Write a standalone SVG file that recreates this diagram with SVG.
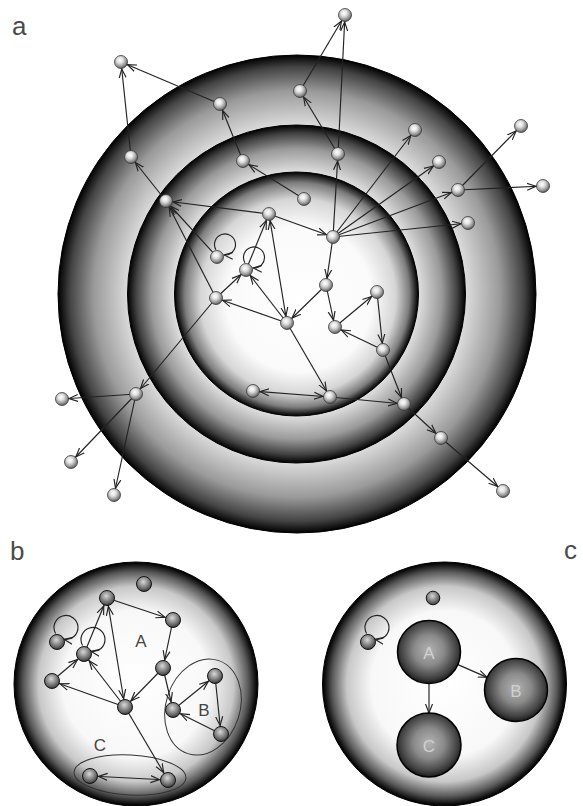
<svg xmlns="http://www.w3.org/2000/svg" width="583" height="806" viewBox="0 0 583 806">
<style>
.lbl{font-family:"Liberation Sans",Arial,sans-serif;fill:#4a4a4a}
.plbl{font-size:26px}
.glbl{font-size:17px;text-anchor:middle;fill:#454545}
.slbl{font-size:17px;text-anchor:middle;fill:#d0d0d0}
.na{fill:url(#gNodeA);stroke:#3a3a3a;stroke-width:0.8}
.nb{fill:url(#gNodeB);stroke:#151515;stroke-width:1}
.big{fill:url(#gBig);stroke:#000;stroke-width:1.5}
.edge{fill:none;stroke:#222;stroke-width:1.15}
.ea{marker-end:url(#ahA)}
.eab{marker-start:url(#ahA);marker-end:url(#ahA)}
.eb{marker-end:url(#ahB)}
.ebb{marker-start:url(#ahB);marker-end:url(#ahB)}
.el{marker-end:url(#ahL)}
.grp{fill:none;stroke:#333;stroke-width:1}
.mk{fill:none;stroke:#222;stroke-width:1.15}
</style>
<defs>
<radialGradient id="gOuter" cx="0.5" cy="0.5" r="0.5">
<stop offset="0" stop-color="#e6e6e6"/>
<stop offset="0.7" stop-color="#dedede"/>
<stop offset="0.85" stop-color="#9a9a9a"/>
<stop offset="0.95" stop-color="#444"/>
<stop offset="1" stop-color="#000"/>
</radialGradient>
<radialGradient id="gMid" cx="0.5" cy="0.5" r="0.5">
<stop offset="0" stop-color="#e8e8e8"/>
<stop offset="0.72" stop-color="#e0e0e0"/>
<stop offset="0.86" stop-color="#9a9a9a"/>
<stop offset="0.95" stop-color="#424242"/>
<stop offset="1" stop-color="#000"/>
</radialGradient>
<radialGradient id="gInner" cx="0.5" cy="0.5" r="0.5" fx="0.53" fy="0.55">
<stop offset="0" stop-color="#fff"/>
<stop offset="0.6" stop-color="#fafafa"/>
<stop offset="0.8" stop-color="#d6d6d6"/>
<stop offset="0.92" stop-color="#7e7e7e"/>
<stop offset="0.98" stop-color="#1e1e1e"/>
<stop offset="1" stop-color="#000"/>
</radialGradient>
<radialGradient id="gPanel" cx="0.5" cy="0.5" r="0.5">
<stop offset="0" stop-color="#fff"/>
<stop offset="0.6" stop-color="#f8f8f8"/>
<stop offset="0.8" stop-color="#c8c8c8"/>
<stop offset="0.92" stop-color="#5a5a5a"/>
<stop offset="0.98" stop-color="#111"/>
<stop offset="1" stop-color="#000"/>
</radialGradient>
<radialGradient id="gNodeA" cx="0.42" cy="0.36" r="0.64">
<stop offset="0" stop-color="#fff"/>
<stop offset="0.35" stop-color="#e2e2e2"/>
<stop offset="0.8" stop-color="#8c8c8c"/>
<stop offset="1" stop-color="#555"/>
</radialGradient>
<radialGradient id="gNodeB" cx="0.45" cy="0.36" r="0.64">
<stop offset="0" stop-color="#d8d8d8"/>
<stop offset="0.35" stop-color="#a2a2a2"/>
<stop offset="0.8" stop-color="#5c5c5c"/>
<stop offset="1" stop-color="#333"/>
</radialGradient>
<radialGradient id="gBig" cx="0.5" cy="0.47" r="0.53">
<stop offset="0" stop-color="#b2b2b2"/>
<stop offset="0.45" stop-color="#8a8a8a"/>
<stop offset="0.85" stop-color="#404040"/>
<stop offset="1" stop-color="#1a1a1a"/>
</radialGradient>
<marker id="ahA" markerUnits="userSpaceOnUse" markerWidth="20" markerHeight="10" viewBox="0 0 20 10" refX="16" refY="5" orient="auto-start-reverse"><path class="mk" d="M0,1.5 L9,5 L0,8.5"/></marker>
<marker id="ahB" markerUnits="userSpaceOnUse" markerWidth="20" markerHeight="10" viewBox="0 0 20 10" refX="17.5" refY="5" orient="auto-start-reverse"><path class="mk" d="M0,1.5 L9,5 L0,8.5"/></marker>
<marker id="ahL" markerUnits="userSpaceOnUse" markerWidth="20" markerHeight="10" viewBox="0 0 20 10" refX="9" refY="5" orient="auto"><path class="mk" d="M0,1.5 L9,5 L0,8.5"/></marker>
</defs>

<!-- panel labels -->
<text class="lbl plbl" x="12" y="35">a</text>
<text class="lbl plbl" x="10" y="560">b</text>
<text class="lbl plbl" x="564" y="559">c</text>

<!-- panel a: concentric layers -->
<g id="a-layers">
<circle cx="297" cy="294" r="239" fill="url(#gOuter)" stroke="#000" stroke-width="1"/>
<circle cx="296.5" cy="294" r="169" fill="url(#gMid)" stroke="#000" stroke-width="1"/>
<circle cx="296.5" cy="294" r="122" fill="url(#gInner)" stroke="#000" stroke-width="1"/>
</g>

<!-- panel b / c backgrounds -->
<circle id="b-disc" cx="136" cy="684" r="122" fill="url(#gPanel)" stroke="#000" stroke-width="1"/>
<circle id="c-disc" cx="444.5" cy="684" r="122" fill="url(#gPanel)" stroke="#000" stroke-width="1"/>

<!-- group outlines in b -->
<g id="b-groupB"><ellipse class="grp" cx="203" cy="707" rx="37" ry="49" transform="rotate(18 203 707)"/></g>
<g id="b-groupC"><ellipse class="grp" cx="130" cy="775" rx="56" ry="20" transform="rotate(3 130 775)"/></g>

<g id="connectors">
<!-- panel a -->
<line class="edge ea" x1="220" y1="104" x2="121" y2="62"/>
<line class="edge ea" x1="131" y1="157" x2="121" y2="62"/>
<line class="edge ea" x1="243" y1="161" x2="220" y2="104"/>
<line class="edge ea" x1="166" y1="201" x2="131" y2="157"/>
<line class="edge ea" x1="304" y1="199" x2="243" y2="161"/>
<line class="edge ea" x1="269" y1="214" x2="166" y2="201"/>
<line class="edge ea" x1="217" y1="257" x2="166" y2="201"/>
<line class="edge ea" x1="216" y1="298" x2="166" y2="201"/>
<line class="edge ea" x1="246" y1="270" x2="269" y2="214"/>
<line class="edge eab" x1="269" y1="214" x2="287" y2="323"/>
<line class="edge ea" x1="269" y1="214" x2="333" y2="237"/>
<line class="edge ea" x1="333" y1="237" x2="326" y2="285"/>
<line class="edge ea" x1="326" y1="285" x2="287" y2="323"/>
<line class="edge ea" x1="326" y1="285" x2="335" y2="327"/>
<line class="edge ea" x1="335" y1="327" x2="377" y2="292"/>
<line class="edge ea" x1="377" y1="292" x2="383" y2="350"/>
<line class="edge ea" x1="383" y1="350" x2="335" y2="327"/>
<line class="edge ea" x1="287" y1="323" x2="216" y2="298"/>
<line class="edge ea" x1="287" y1="323" x2="246" y2="270"/>
<line class="edge ea" x1="216" y1="298" x2="246" y2="270"/>
<line class="edge ea" x1="287" y1="323" x2="330" y2="397"/>
<line class="edge eab" x1="253" y1="391" x2="330" y2="397"/>
<line class="edge ea" x1="330" y1="397" x2="404" y2="404"/>
<line class="edge ea" x1="383" y1="350" x2="404" y2="404"/>
<line class="edge ea" x1="404" y1="404" x2="441" y2="438"/>
<line class="edge ea" x1="441" y1="438" x2="503" y2="491"/>
<line class="edge ea" x1="216" y1="298" x2="136" y2="394"/>
<line class="edge ea" x1="136" y1="394" x2="62" y2="399"/>
<line class="edge ea" x1="136" y1="394" x2="71" y2="462"/>
<line class="edge ea" x1="136" y1="394" x2="114" y2="495"/>
<line class="edge ea" x1="333" y1="237" x2="338" y2="154"/>
<line class="edge ea" x1="338" y1="154" x2="300" y2="91"/>
<line class="edge ea" x1="338" y1="154" x2="345" y2="15"/>
<line class="edge ea" x1="300" y1="91" x2="345" y2="15"/>
<line class="edge ea" x1="333" y1="237" x2="415" y2="130"/>
<line class="edge ea" x1="333" y1="237" x2="439" y2="162"/>
<line class="edge ea" x1="333" y1="237" x2="458" y2="190"/>
<line class="edge ea" x1="333" y1="237" x2="468" y2="223"/>
<line class="edge ea" x1="458" y1="190" x2="521" y2="126"/>
<line class="edge ea" x1="458" y1="190" x2="543" y2="186"/>
<path class="edge el" d="M215.9,249.75 A10.5,10.5 0 1 1 224.1,254.96"/>
<path class="edge el" d="M244.9,262.75 A10.5,10.5 0 1 1 253.1,267.96"/>
<!-- panel b -->
<line class="edge eb" x1="107" y1="598" x2="173" y2="620"/>
<line class="edge eb" x1="173" y1="620" x2="163" y2="668"/>
<line class="edge eb" x1="163" y1="668" x2="125" y2="707"/>
<line class="edge eb" x1="163" y1="668" x2="173" y2="710"/>
<line class="edge ebb" x1="107" y1="598" x2="125" y2="707"/>
<line class="edge eb" x1="84" y1="654" x2="107" y2="598"/>
<line class="edge eb" x1="52" y1="681" x2="84" y2="654"/>
<line class="edge eb" x1="125" y1="707" x2="52" y2="681"/>
<line class="edge eb" x1="125" y1="707" x2="84" y2="654"/>
<line class="edge eb" x1="173" y1="710" x2="215" y2="676"/>
<line class="edge eb" x1="215" y1="676" x2="221" y2="734"/>
<line class="edge eb" x1="221" y1="734" x2="173" y2="710"/>
<line class="edge eb" x1="125" y1="707" x2="168" y2="780"/>
<line class="edge ebb" x1="90" y1="776" x2="168" y2="780"/>
<path class="edge el" d="M55.61,633.5 A12,12 0 1 1 63.92,639.32"/>
<path class="edge el" d="M82.61,645.5 A12,12 0 1 1 90.92,651.32"/>
<!-- panel c -->
<path class="edge el" d="M366.61,633.5 A12,12 0 1 1 374.92,639.32"/>
<line class="edge el" x1="457.9" y1="664.6" x2="487.1" y2="677.4"/>
<line class="edge el" x1="429" y1="683.5" x2="429" y2="713"/>
</g>

<!-- panel a nodes -->
<g id="a-n1"><circle class="na" cx="121" cy="62" r="6.5"/></g>
<g id="a-n2"><circle class="na" cx="220" cy="104" r="6.5"/></g>
<g id="a-n3"><circle class="na" cx="131" cy="157" r="6.5"/></g>
<g id="a-n4"><circle class="na" cx="243" cy="161" r="6.5"/></g>
<g id="a-n5"><circle class="na" cx="166" cy="201" r="6.5"/></g>
<g id="a-n6"><circle class="na" cx="269" cy="214" r="6.5"/></g>
<g id="a-n7"><circle class="na" cx="345" cy="15" r="6.5"/></g>
<g id="a-n8"><circle class="na" cx="300" cy="91" r="6.5"/></g>
<g id="a-n9"><circle class="na" cx="338" cy="154" r="6.5"/></g>
<g id="a-n10"><circle class="na" cx="415" cy="130" r="6.5"/></g>
<g id="a-n11"><circle class="na" cx="439" cy="162" r="6.5"/></g>
<g id="a-n12"><circle class="na" cx="521" cy="126" r="6.5"/></g>
<g id="a-n13"><circle class="na" cx="458" cy="190" r="6.5"/></g>
<g id="a-n14"><circle class="na" cx="543" cy="186" r="6.5"/></g>
<g id="a-n15"><circle class="na" cx="468" cy="223" r="6.5"/></g>
<g id="a-n16"><circle class="na" cx="333" cy="237" r="6.5"/></g>
<g id="a-n17"><circle class="na" cx="304" cy="199" r="6.5"/></g>
<g id="a-n18"><circle class="na" cx="217" cy="257" r="6.5"/></g>
<g id="a-n19"><circle class="na" cx="246" cy="270" r="6.5"/></g>
<g id="a-n20"><circle class="na" cx="216" cy="298" r="6.5"/></g>
<g id="a-n21"><circle class="na" cx="326" cy="285" r="6.5"/></g>
<g id="a-n22"><circle class="na" cx="287" cy="323" r="6.5"/></g>
<g id="a-n23"><circle class="na" cx="335" cy="327" r="6.5"/></g>
<g id="a-n24"><circle class="na" cx="377" cy="292" r="6.5"/></g>
<g id="a-n25"><circle class="na" cx="383" cy="350" r="6.5"/></g>
<g id="a-n26"><circle class="na" cx="253" cy="391" r="6.5"/></g>
<g id="a-n27"><circle class="na" cx="330" cy="397" r="6.5"/></g>
<g id="a-n28"><circle class="na" cx="404" cy="404" r="6.5"/></g>
<g id="a-n29"><circle class="na" cx="441" cy="438" r="6.5"/></g>
<g id="a-n30"><circle class="na" cx="503" cy="491" r="6.5"/></g>
<g id="a-n31"><circle class="na" cx="136" cy="394" r="6.5"/></g>
<g id="a-n32"><circle class="na" cx="62" cy="399" r="6.5"/></g>
<g id="a-n33"><circle class="na" cx="71" cy="462" r="6.5"/></g>
<g id="a-n34"><circle class="na" cx="114" cy="495" r="6.5"/></g>

<!-- panel b nodes -->
<g id="b-n1"><circle class="nb" cx="144" cy="584" r="7.5"/></g>
<g id="b-n2"><circle class="nb" cx="107" cy="598" r="7.5"/></g>
<g id="b-n3"><circle class="nb" cx="173" cy="620" r="7.5"/></g>
<g id="b-n4"><circle class="nb" cx="57" cy="642" r="7.5"/></g>
<g id="b-n5"><circle class="nb" cx="84" cy="654" r="7.5"/></g>
<g id="b-n6"><circle class="nb" cx="52" cy="681" r="7.5"/></g>
<g id="b-n7"><circle class="nb" cx="163" cy="668" r="7.5"/></g>
<g id="b-n8"><circle class="nb" cx="125" cy="707" r="7.5"/></g>
<g id="b-n9"><circle class="nb" cx="215" cy="676" r="7.5"/></g>
<g id="b-n10"><circle class="nb" cx="173" cy="710" r="7.5"/></g>
<g id="b-n11"><circle class="nb" cx="221" cy="734" r="7.5"/></g>
<g id="b-n12"><circle class="nb" cx="90" cy="776" r="7.5"/></g>
<g id="b-n13"><circle class="nb" cx="168" cy="780" r="7.5"/></g>
<g id="b-labels">
<text class="lbl glbl" x="141" y="647">A</text>
<text class="lbl glbl" x="204" y="716">B</text>
<text class="lbl glbl" x="100" y="751">C</text>
</g>

<!-- panel c nodes -->
<g id="c-n1"><circle class="nb" cx="433" cy="598" r="6.8"/></g>
<g id="c-n2"><circle class="nb" cx="368" cy="642" r="7.5"/></g>
<g id="c-A"><circle class="big" cx="429" cy="652" r="31.5"/><text class="lbl slbl" x="429" y="659">A</text></g>
<g id="c-B"><circle class="big" cx="516" cy="690" r="31.5"/><text class="lbl slbl" x="516" y="697">B</text></g>
<g id="c-C"><circle class="big" cx="429" cy="745" r="32"/><text class="lbl slbl" x="429" y="752">C</text></g>
</svg>
